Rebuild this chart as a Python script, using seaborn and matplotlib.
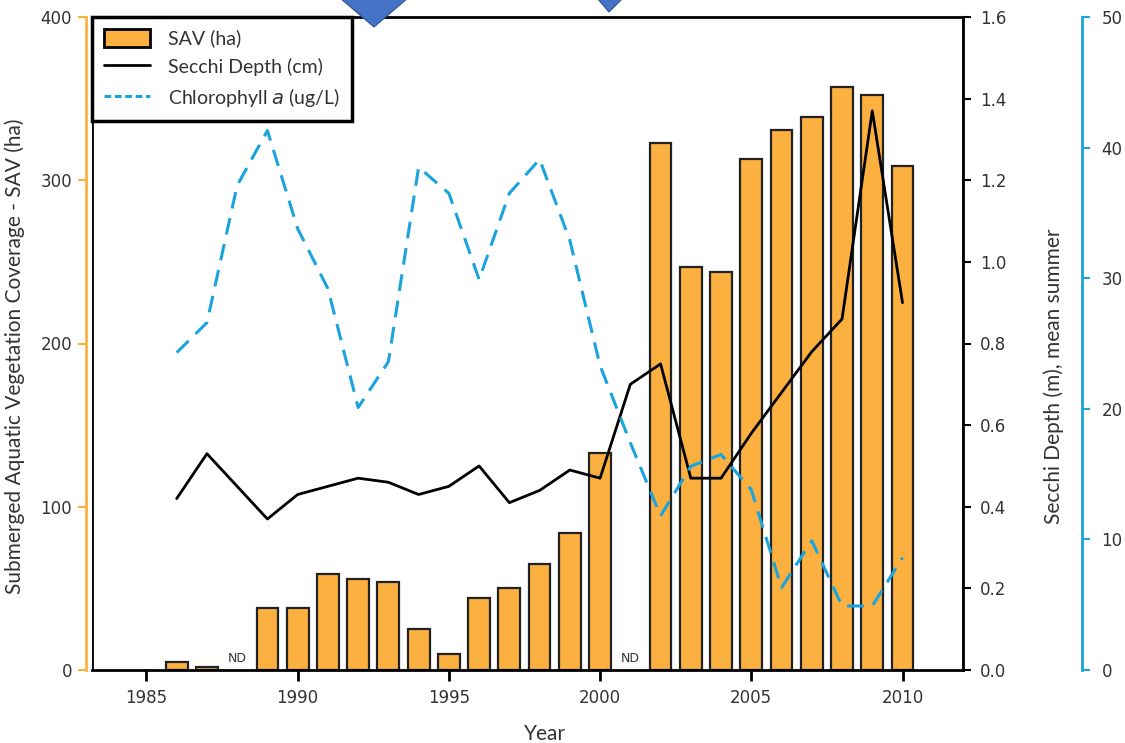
import matplotlib
matplotlib.use("Agg")
import matplotlib.pyplot as plt
import seaborn as sns
import numpy as np
import pandas as pd
from matplotlib.lines import Line2D
from matplotlib.patches import Patch, Polygon

# data
years = list(range(1985, 2011))
sav_ha = [np.nan, 5, 2, np.nan, 38, 38, 59, 56, 54, 25, 10, 44, 50, 65,
          84, 133, np.nan, 323, 247, 244, 313, 331, 339, 357, 352, 309]
secchi_m = [np.nan, 0.42, 0.53, np.nan, 0.37, 0.43, 0.45, 0.47, 0.46, 0.43, 0.45, 0.50,
            0.41, 0.44, 0.49, 0.47, 0.70, 0.75, 0.47, 0.47, 0.58, 0.68, 0.78, 0.86, 1.37, 0.90]
chl_ugl = [np.nan, 24.3, 26.6, 37.1, 41.3, 33.8, 29.2, 20.1, 23.6, 38.5, 36.5, 29.9,
           36.5, 39.1, 32.9, 23.3, 17.4, 11.8, 15.6, 16.5, 13.8, 6.3, 9.9, 4.9, 4.9, 8.6]
nd_years = [1988, 2001]

df = pd.DataFrame({"year": years, "sav": sav_ha, "secchi": secchi_m, "chl": chl_ugl})

ORANGE = "#FBB040"
BLUE = "#1BA3DD"
TXT = "#333333"
LABEL_FONT = ["Lato", "DejaVu Sans"]
PX = 72 / 100  # pixels -> points at dpi 100

sns.set_theme(style="white")
plt.rcParams["font.family"] = ["DejaVu Sans"]

fig = plt.figure(figsize=(11.25, 7.43), dpi=100)
ax = fig.add_axes([92 / 1125, 1 - 670 / 743, 871 / 1125, 653 / 743])

# bars
sns.barplot(data=df.dropna(subset=["sav"]), x="year", y="sav", native_scale=True,
            width=0.72, color=ORANGE, edgecolor="#222222", linewidth=1.6,
            errorbar=None, saturation=1, ax=ax, zorder=2)
for yr in nd_years:
    ax.text(yr, 3, "ND", ha="center", va="bottom", fontsize=9, color=TXT)

ax.set_xlim(1983.2, 2012)
ax.set_ylim(0, 400)
ax.set_xticks([1985, 1990, 1995, 2000, 2005, 2010])
ax.set_yticks([0, 100, 200, 300, 400])
ax.tick_params(axis="x", direction="out", length=8, width=2, color="black",
               labelsize=12, labelcolor=TXT, bottom=True, pad=6)
ax.tick_params(axis="y", direction="out", length=6, width=1.5, color=ORANGE,
               labelsize=12, labelcolor=TXT, left=True, pad=4)
for side in ["top", "bottom"]:
    ax.spines[side].set_color("black")
    ax.spines[side].set_linewidth(2)
ax.spines["left"].set_color(ORANGE)
ax.spines["left"].set_linewidth(2)
ax.spines["left"].set_position(("outward", 6 * PX))
ax.add_artist(Line2D([0, 0], [0, 1], transform=ax.transAxes, color="black", lw=2))

ax.set_xlabel("Year", family=LABEL_FONT, fontsize=15, color=TXT)
ax.xaxis.set_label_coords(0.52, -0.083)
ax.set_ylabel("Submerged Aquatic Vegetation Coverage - SAV (ha)", family=LABEL_FONT,
              fontsize=15, color=TXT)
ax.yaxis.set_label_coords(-0.077, 0.48)

# secchi depth
ax2 = ax.twinx()
sns.lineplot(data=df, x="year", y="secchi", color="black", lw=2, ax=ax2)
ax2.set_ylim(0, 1.6)
ax2.set_yticks(np.arange(0, 1.61, 0.2))
ax2.set_yticklabels([f"{v:.1f}" for v in np.arange(0, 1.61, 0.2)])
ax2.tick_params(axis="y", direction="out", length=6, width=1.5, color="black",
                labelsize=12, labelcolor=TXT, right=True, pad=6)
for side in ["left", "top", "bottom"]:
    ax2.spines[side].set_visible(False)
ax2.spines["right"].set_color("black")
ax2.spines["right"].set_linewidth(2)
ax2.set_ylabel("Secchi Depth (m), mean summer", family=LABEL_FONT, fontsize=15, color=TXT)
ax2.yaxis.set_label_coords(1.092, 0.45)
ax2.set_xlabel("")

# chlorophyll a
ax3 = ax.twinx()
sns.lineplot(data=df, x="year", y="chl", color=BLUE, lw=2.2, ax=ax3)
ax3.lines[0].set_dashes((5.5, 3.2))
ax3.set_ylim(0, 50)
ax3.set_yticks([0, 10, 20, 30, 40, 50])
ax3.tick_params(axis="y", direction="out", length=6, width=1.5, color=BLUE,
                labelsize=12, labelcolor=TXT, right=True, pad=8)
for side in ["left", "top", "bottom"]:
    ax3.spines[side].set_visible(False)
ax3.spines["right"].set_position(("outward", 119 * PX))
ax3.spines["right"].set_color(BLUE)
ax3.spines["right"].set_linewidth(2)
ax3.set_ylabel("")
ax3.set_xlabel("")
ax.set_xlim(1983.2, 2012)

handles = [Patch(facecolor=ORANGE, edgecolor="black", linewidth=2),
           Line2D([], [], color="black", lw=2),
           Line2D([], [], color=BLUE, lw=2.2, dashes=(2.2, 1.2))]
leg = ax3.legend(handles, ["SAV (ha)", "Secchi Depth (cm)", "Chlorophyll $a$ (ug/L)"],
                 loc="upper left", bbox_to_anchor=(0, 1), borderaxespad=0,
                 fancybox=False, framealpha=1, edgecolor="black",
                 handlelength=2.4, handleheight=1.1, labelspacing=0.5, borderpad=0.6,
                 handletextpad=0.9,
                 prop={"family": LABEL_FONT, "size": 14})
leg.get_frame().set_linewidth(2.5)
for t in leg.get_texts():
    t.set_color(TXT)

# cut-off blue arrow heads at the top edge of the picture
for pts in ([(340, -2), (408, -2), (374, 27)], [(597, -2), (623, -2), (609, 12)]):
    fig.add_artist(Polygon([(x / 1125, 1 - y / 743) for x, y in pts], closed=True,
                           transform=fig.transFigure, facecolor="#4472C4",
                           edgecolor="#2F528F", lw=0.8, zorder=10))

fig.savefig("out.png", dpi=100)
